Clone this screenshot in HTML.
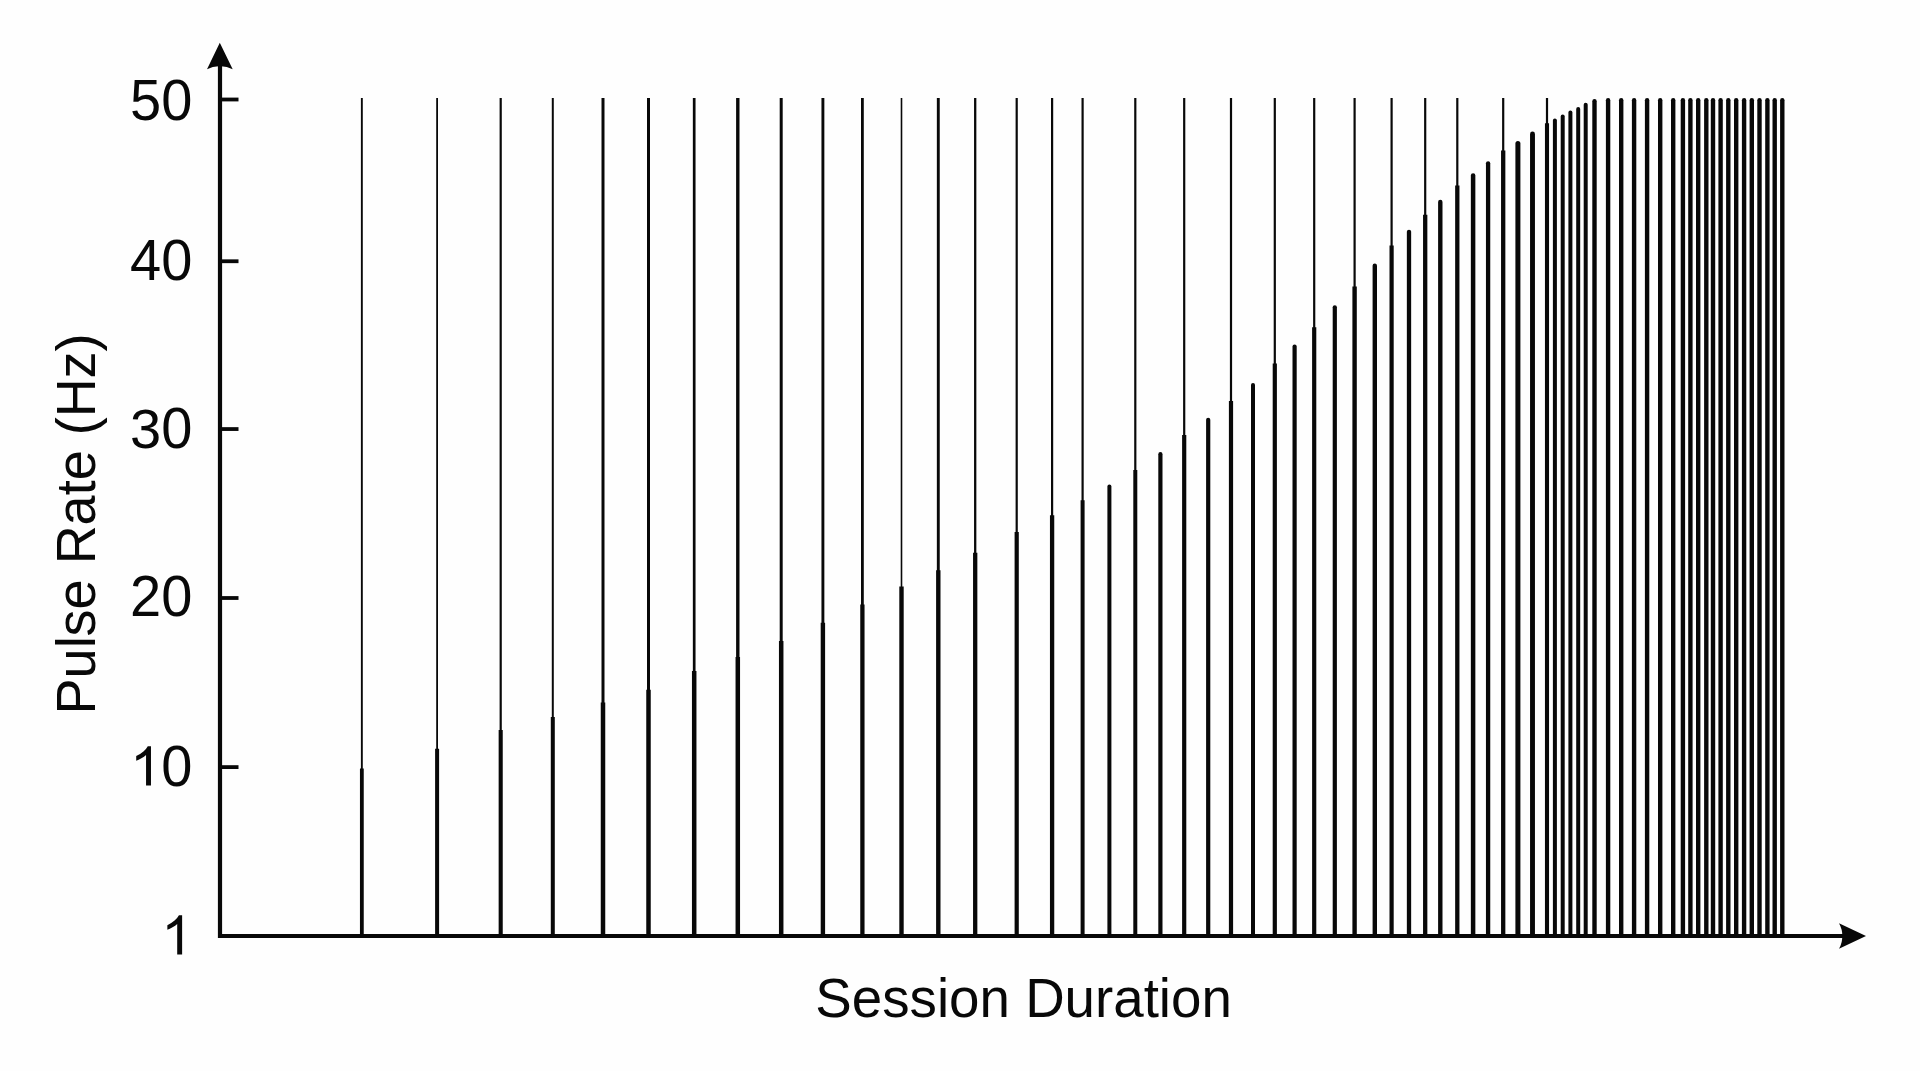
<!DOCTYPE html>
<html><head><meta charset="utf-8"><style>
html,body{margin:0;padding:0;background:#fefefe;}
body{width:1920px;height:1071px;overflow:hidden;}
svg{display:block;}
text{font-family:"Liberation Sans",sans-serif;fill:#080808;}
.r{stroke-linecap:round}
</style></head><body>
<svg width="1920" height="1071" viewBox="0 0 1920 1071">
<rect width="1920" height="1071" fill="#fefefe"/>
<g stroke="#080808" fill="none">
<line x1="361.85" y1="98" x2="361.85" y2="769.4" stroke-width="1.9"/>
<line x1="361.85" y1="768.4" x2="361.85" y2="936" stroke-width="3.8"/>
<line x1="437.1" y1="98" x2="437.1" y2="749.8" stroke-width="1.8"/>
<line x1="437.1" y1="748.8" x2="437.1" y2="936" stroke-width="4"/>
<line x1="500.7" y1="98" x2="500.7" y2="731" stroke-width="2.2"/>
<line x1="500.7" y1="730" x2="500.7" y2="936" stroke-width="4.1"/>
<line x1="552.8" y1="98" x2="552.8" y2="717.9" stroke-width="2"/>
<line x1="552.8" y1="716.9" x2="552.8" y2="936" stroke-width="4"/>
<line x1="603" y1="98" x2="603" y2="703.4" stroke-width="3"/>
<line x1="603" y1="702.4" x2="603" y2="936" stroke-width="4.5"/>
<line x1="648.5" y1="98" x2="648.5" y2="690.7" stroke-width="3"/>
<line x1="648.5" y1="689.7" x2="648.5" y2="936" stroke-width="4.5"/>
<line x1="694.2" y1="98" x2="694.2" y2="671.9" stroke-width="2.7"/>
<line x1="694.2" y1="670.9" x2="694.2" y2="936" stroke-width="4.5"/>
<line x1="737.8" y1="98" x2="737.8" y2="657.9" stroke-width="3.4"/>
<line x1="737.8" y1="656.9" x2="737.8" y2="936" stroke-width="4.5"/>
<line x1="781.2" y1="98" x2="781.2" y2="641.9" stroke-width="3"/>
<line x1="781.2" y1="640.9" x2="781.2" y2="936" stroke-width="4.5"/>
<line x1="822.9" y1="98" x2="822.9" y2="623.8" stroke-width="2.9"/>
<line x1="822.9" y1="622.8" x2="822.9" y2="936" stroke-width="4.4"/>
<line x1="862.4" y1="98" x2="862.4" y2="605.4" stroke-width="2.8"/>
<line x1="862.4" y1="604.4" x2="862.4" y2="936" stroke-width="4.3"/>
<line x1="901.5" y1="98" x2="901.5" y2="587.6" stroke-width="1.6"/>
<line x1="901.5" y1="586.6" x2="901.5" y2="936" stroke-width="4.4"/>
<line x1="938.3" y1="98" x2="938.3" y2="571.3" stroke-width="2.9"/>
<line x1="938.3" y1="570.3" x2="938.3" y2="936" stroke-width="4.4"/>
<line x1="975.2" y1="98" x2="975.2" y2="553.8" stroke-width="2.3"/>
<line x1="975.2" y1="552.8" x2="975.2" y2="936" stroke-width="4.3"/>
<line x1="1016.7" y1="98" x2="1016.7" y2="533" stroke-width="2.2"/>
<line x1="1016.7" y1="532" x2="1016.7" y2="936" stroke-width="4.2"/>
<line x1="1052.1" y1="98" x2="1052.1" y2="516.3" stroke-width="2.2"/>
<line x1="1052.1" y1="515.3" x2="1052.1" y2="936" stroke-width="4.3"/>
<line x1="1082.6" y1="98" x2="1082.6" y2="501.2" stroke-width="2.2"/>
<line x1="1082.6" y1="500.2" x2="1082.6" y2="936" stroke-width="4"/>
<line class="r" x1="1109.4" y1="486.5" x2="1109.4" y2="934" stroke-width="4"/>
<line x1="1135.3" y1="98" x2="1135.3" y2="471" stroke-width="2.2"/>
<line x1="1135.3" y1="470" x2="1135.3" y2="936" stroke-width="4"/>
<line class="r" x1="1160.4" y1="454.2" x2="1160.4" y2="933.9" stroke-width="4.2"/>
<line x1="1184.2" y1="98" x2="1184.2" y2="436.1" stroke-width="2.2"/>
<line x1="1184.2" y1="435.1" x2="1184.2" y2="936" stroke-width="4.2"/>
<line class="r" x1="1208.2" y1="419.8" x2="1208.2" y2="933.9" stroke-width="4.2"/>
<line x1="1231" y1="98" x2="1231" y2="402" stroke-width="2.2"/>
<line x1="1231" y1="401" x2="1231" y2="936" stroke-width="4.2"/>
<line class="r" x1="1253" y1="385.1" x2="1253" y2="934" stroke-width="4"/>
<line x1="1274.8" y1="98" x2="1274.8" y2="364.6" stroke-width="2.2"/>
<line x1="1274.8" y1="363.6" x2="1274.8" y2="936" stroke-width="4.2"/>
<line class="r" x1="1294.6" y1="346.6" x2="1294.6" y2="933.9" stroke-width="4.2"/>
<line x1="1314.2" y1="98" x2="1314.2" y2="328.2" stroke-width="2.2"/>
<line x1="1314.2" y1="327.2" x2="1314.2" y2="936" stroke-width="4.2"/>
<line class="r" x1="1334.8" y1="307.3" x2="1334.8" y2="933.9" stroke-width="4.2"/>
<line x1="1354.6" y1="98" x2="1354.6" y2="287.5" stroke-width="2.2"/>
<line x1="1354.6" y1="286.5" x2="1354.6" y2="936" stroke-width="4.4"/>
<line class="r" x1="1374.8" y1="265.7" x2="1374.8" y2="933.8" stroke-width="4.4"/>
<line x1="1391.6" y1="98" x2="1391.6" y2="246.6" stroke-width="2.2"/>
<line x1="1391.6" y1="245.6" x2="1391.6" y2="936" stroke-width="4.2"/>
<line class="r" x1="1409" y1="231.85" x2="1409" y2="933.85" stroke-width="4.3"/>
<line x1="1425.2" y1="98" x2="1425.2" y2="215.8" stroke-width="2.2"/>
<line x1="1425.2" y1="214.8" x2="1425.2" y2="936" stroke-width="4.3"/>
<line class="r" x1="1440.3" y1="201.9" x2="1440.3" y2="933.8" stroke-width="4.4"/>
<line x1="1457.3" y1="98" x2="1457.3" y2="186.4" stroke-width="2.2"/>
<line x1="1457.3" y1="185.4" x2="1457.3" y2="936" stroke-width="4.3"/>
<line class="r" x1="1473.1" y1="175.55" x2="1473.1" y2="933.75" stroke-width="4.5"/>
<line class="r" x1="1488.1" y1="163.35" x2="1488.1" y2="933.85" stroke-width="4.3"/>
<line x1="1503.2" y1="98" x2="1503.2" y2="151.5" stroke-width="2.2"/>
<line x1="1503.2" y1="150.5" x2="1503.2" y2="936" stroke-width="4.3"/>
<line class="r" x1="1517.9" y1="143.5" x2="1517.9" y2="933.5" stroke-width="5"/>
<line class="r" x1="1532.5" y1="133.95" x2="1532.5" y2="933.55" stroke-width="4.9"/>
<line x1="1547" y1="98" x2="1547" y2="124.3" stroke-width="2.2"/>
<line x1="1547" y1="123.3" x2="1547" y2="936" stroke-width="4.1"/>
<line class="r" x1="1554.9" y1="120.5" x2="1554.9" y2="934" stroke-width="4"/>
<line class="r" x1="1562.7" y1="116.4" x2="1562.7" y2="934" stroke-width="4"/>
<line class="r" x1="1570.4" y1="112.5" x2="1570.4" y2="934" stroke-width="4"/>
<line class="r" x1="1578.2" y1="109" x2="1578.2" y2="934" stroke-width="4"/>
<line class="r" x1="1585.7" y1="104.8" x2="1585.7" y2="934" stroke-width="4"/>
<line class="r" x1="1594.5" y1="101.2" x2="1594.5" y2="933.8" stroke-width="4.4"/>
<line class="r" x1="1608.1" y1="100.2" x2="1608.1" y2="933.8" stroke-width="4.4"/>
<line class="r" x1="1621.2" y1="100.2" x2="1621.2" y2="933.8" stroke-width="4.4"/>
<line class="r" x1="1634.1" y1="100.2" x2="1634.1" y2="933.8" stroke-width="4.4"/>
<line class="r" x1="1647.1" y1="100.2" x2="1647.1" y2="933.8" stroke-width="4.4"/>
<line class="r" x1="1660.2" y1="100.2" x2="1660.2" y2="933.8" stroke-width="4.4"/>
<line class="r" x1="1673.2" y1="100.2" x2="1673.2" y2="933.8" stroke-width="4.4"/>
<line class="r" x1="1682.9" y1="100.2" x2="1682.9" y2="933.8" stroke-width="4.4"/>
<line class="r" x1="1690.4" y1="100.2" x2="1690.4" y2="933.8" stroke-width="4.4"/>
<line class="r" x1="1698.2" y1="100.2" x2="1698.2" y2="933.8" stroke-width="4.4"/>
<line class="r" x1="1706.3" y1="100.2" x2="1706.3" y2="933.8" stroke-width="4.4"/>
<line class="r" x1="1713" y1="100.2" x2="1713" y2="933.8" stroke-width="4.4"/>
<line class="r" x1="1720.6" y1="100.2" x2="1720.6" y2="933.8" stroke-width="4.4"/>
<line class="r" x1="1728.3" y1="100.2" x2="1728.3" y2="933.8" stroke-width="4.4"/>
<line class="r" x1="1736.2" y1="100.2" x2="1736.2" y2="933.8" stroke-width="4.4"/>
<line class="r" x1="1744.1" y1="100.2" x2="1744.1" y2="933.8" stroke-width="4.4"/>
<line class="r" x1="1751.8" y1="100.2" x2="1751.8" y2="933.8" stroke-width="4.4"/>
<line class="r" x1="1759.5" y1="100.2" x2="1759.5" y2="933.8" stroke-width="4.4"/>
<line class="r" x1="1767.4" y1="100.2" x2="1767.4" y2="933.8" stroke-width="4.4"/>
<line class="r" x1="1774.7" y1="100.2" x2="1774.7" y2="933.8" stroke-width="4.4"/>
<line class="r" x1="1782.3" y1="100.2" x2="1782.3" y2="933.8" stroke-width="4.4"/>
</g>
<g stroke="#080808">
<line x1="220" y1="60" x2="220" y2="938" stroke-width="4.2"/>
<line x1="218" y1="936" x2="1845" y2="936" stroke-width="4.2"/>
<line x1="220" y1="99.5" x2="238.5" y2="99.5" stroke-width="3.8"/>
<line x1="220" y1="261.25" x2="238.5" y2="261.25" stroke-width="3.8"/>
<line x1="220" y1="429.05" x2="238.5" y2="429.05" stroke-width="3.8"/>
<line x1="220" y1="598" x2="238.5" y2="598" stroke-width="3.8"/>
<line x1="220" y1="767.1" x2="238.5" y2="767.1" stroke-width="3.8"/>
</g>
<path d="M219.8 42.8 L232.7 69.2 Q226 65.8 219.8 66.2 Q213.6 65.8 207 69.2 Z" fill="#080808"/>
<path d="M1866 936 L1839 923.2 Q1842.6 929.6 1842.2 936 Q1842.6 942.4 1839 948.8 Z" fill="#080808"/>
<g font-size="56" fill="#080808">
<text transform="translate(130.11 119.95) scale(1 1.015)">5</text>
<text transform="translate(161.26 119.95) scale(1 1.025)">0</text>
<text transform="translate(130.11 280) scale(1 1.035)">4</text>
<text transform="translate(161.26 280) scale(1 1.025)">0</text>
<text transform="translate(130.11 447.85) scale(1 1.0)">3</text>
<text transform="translate(161.26 447.85) scale(1 1.025)">0</text>
<text transform="translate(130.11 615.9) scale(1 1.014)">2</text>
<text transform="translate(161.26 615.9) scale(1 1.025)">0</text>
<path transform="translate(130.11 785.5) scale(0.027344 -0.026687)" d="M763 0L583 0L583 1147Q518 1085 412.5 1023Q307 961 223 930L223 1104Q374 1175 487 1276Q600 1377 647 1472L763 1472Z"/>
<text transform="translate(161.26 785.5) scale(1 1.025)">0</text>
<path transform="translate(161.26 954.6) scale(0.027344 -0.026687)" d="M763 0L583 0L583 1147Q518 1085 412.5 1023Q307 961 223 930L223 1104Q374 1175 487 1276Q600 1377 647 1472L763 1472Z"/>
</g>
<text transform="translate(1023.6 1016.7) scale(1 1.03)" font-size="54.7" text-anchor="middle">Session Duration</text>
<text transform="translate(95.1 523.9) rotate(-90) scale(1 1.03)" font-size="54" text-anchor="middle">Pulse Rate (Hz)</text>
</svg>
</body></html>
